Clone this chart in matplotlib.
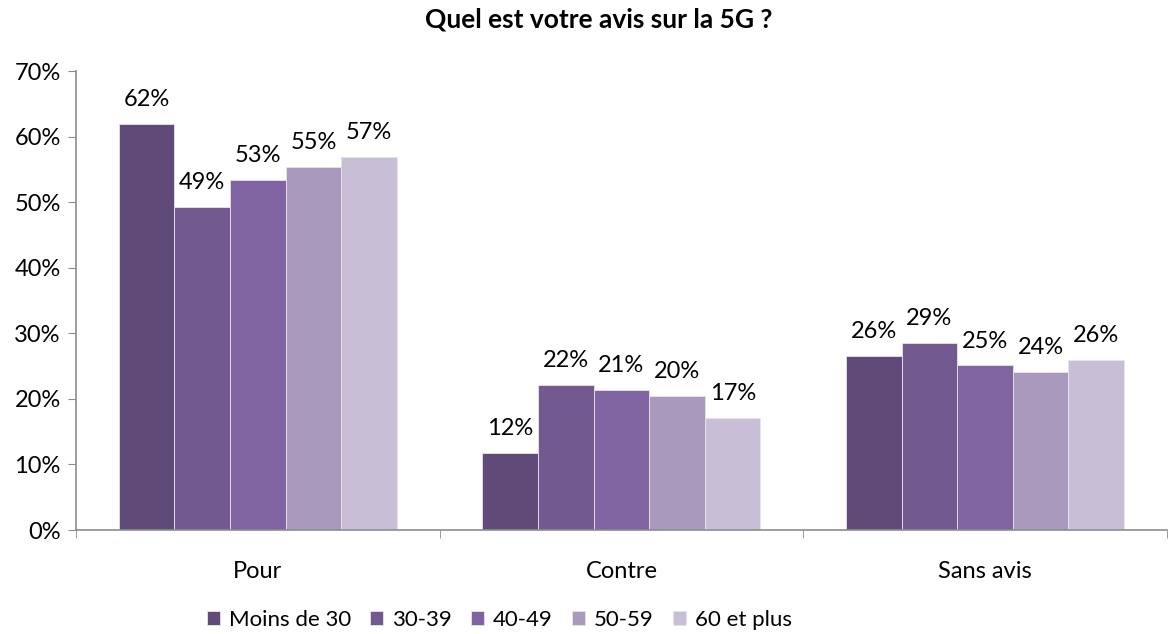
import matplotlib
matplotlib.use("Agg")
import matplotlib.pyplot as plt
import numpy as np

categories = ["Pour", "Contre", "Sans avis"]
series_names = ["Moins de 30", "30-39", "40-49", "50-59", "60 et plus"]
moins30 = [61.9, 11.8, 26.5]
s30_39 = [49.3, 22.1, 28.5]
s40_49 = [53.4, 21.4, 25.1]
s50_59 = [55.4, 20.5, 24.1]
s60plus = [56.9, 17.1, 25.9]
labels = [[62, 12, 26], [49, 22, 29], [53, 21, 25], [55, 20, 24], [57, 17, 26]]
colors = ["#5f4a78", "#72598f", "#8064a2", "#a99abd", "#c8bfd6"]
yticks = [0, 10, 20, 30, 40, 50, 60, 70]

plt.rcParams['font.family'] = ['Lato', 'DejaVu Sans']

fig = plt.figure(figsize=(11.68, 6.34), dpi=100)
ax = fig.add_axes([0.065, 0.164, 0.934, 0.724])

data = [moins30, s30_39, s40_49, s50_59, s60plus]
x = np.arange(len(categories))
w = 0.153
for i, (vals, c, name) in enumerate(zip(data, colors, series_names)):
    pos = x + (i - 2) * w
    bars = ax.bar(pos, vals, width=w, color=c, edgecolor="#e8e4ee", linewidth=0.6, label=name)
    for b, lab in zip(bars, labels[i]):
        ax.annotate(f"{lab}%", (b.get_x() + b.get_width() / 2, b.get_height()),
                    xytext=(0, 10), textcoords="offset points", ha="center", va="bottom",
                    fontsize=17, color="black")

ax.set_xlim(-0.5, 2.5)
ax.set_ylim(0, 70)
ax.set_yticks(yticks)
ax.set_yticklabels([f"{v}%" for v in yticks], fontsize=17)
ax.set_xticks(x)
ax.set_xticklabels(categories, fontsize=17)
ax.set_xticks([-0.5, 0.5, 1.5, 2.5], minor=True)
ax.tick_params(axis='x', which='major', length=0, pad=22)
ax.tick_params(axis='x', which='minor', length=6, color="#8c8c8c", direction='out')
ax.tick_params(axis='y', length=6, color="#8c8c8c", direction='out', pad=5)
for s in ["top", "right"]:
    ax.spines[s].set_visible(False)
for s in ["left", "bottom"]:
    ax.spines[s].set_color("#8c8c8c")
    ax.spines[s].set_linewidth(1.2)

fig.suptitle("Quel est votre avis sur la 5G ?", fontsize=19, fontweight="bold", x=0.513, y=0.988)

ax.legend(loc="center", bbox_to_anchor=(0.388, -0.196), ncol=5, frameon=False,
          fontsize=16, handlelength=0.6, handleheight=0.6, handletextpad=0.4, columnspacing=0.85)

fig.savefig("out.png", dpi=100)
